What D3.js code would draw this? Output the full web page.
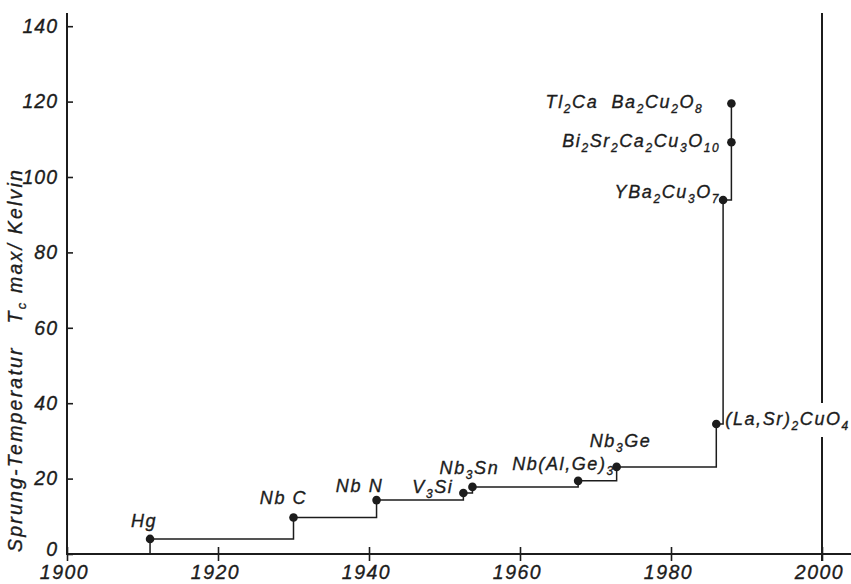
<!DOCTYPE html>
<html>
<head>
<meta charset="utf-8">
<script src="https://cdn.jsdelivr.net/npm/d3@7"></script>
<style>
  html, body { margin: 0; padding: 0; background: #fff; }
  svg { display: block; }
  text { font-family: 'Liberation Sans', Arial, sans-serif; font-style: italic; fill: #1c1c1c;
         stroke: #1c1c1c; stroke-width: 0.35px; }
</style>
</head>
<body>
<svg id="chart" width="851" height="584"></svg>
<script>
// ---- data ----
const materials = ["Hg", "Nb C", "Nb N", "V_3Si", "Nb_3Sn", "Nb(Al,Ge)_3", "Nb_3Ge",
  "(La,Sr)_2CuO_4", "YBa_2Cu_3O_7", "Bi_2Sr_2Ca_2Cu_3O_10", "Tl_2Ca  Ba_2Cu_2O_8"];
const years = [1911, 1930, 1941, 1952.5, 1953.7, 1967.7, 1972.8, 1986.0, 1986.9, 1988.0, 1988.0];
const tcMax = [4.0, 9.7, 14.3, 16.2, 17.8, 19.4, 23.1, 34.5, 93.9, 109.2, 119.5];
const xTicks = [1900, 1920, 1940, 1960, 1980, 2000];
const yTicks = [0, 20, 40, 60, 80, 100, 120, 140];
const markerYear = 2000;
const yLabel = "Sprung-Temperatur   T_c max/ Kelvin";

// ---- layout (not data) ----
// label placement relative to its point: [anchor, dx, dy]
const labelPlacement = [
  ["middle", -6, -12],
  ["middle", -10, -13],
  ["middle", -17, -8],
  ["end", -10, 0],
  ["middle", -3, -13],
  ["start", -66, -11],
  ["middle", 4, -20],
  ["start", 9, 1],
  ["end", -3, -2],
  ["end", -11, 5],
  ["end", -28, 5]
];

const ink = "#1c1c1c";
const svg = d3.select("#chart");
const x = d3.scaleLinear().domain([1900, 2000]).range([67, 822]);
const y = d3.scaleLinear().domain([0, 143.5]).range([554, 13]);
const W = 851;

const points = materials.map((m, i) => ({ name: m, year: years[i], tc: tcMax[i] }));

function richText(sel, str, mainSize, subSize, shift) {
  const parts = str.split(/_(\d+|c)/);
  let shifted = false;
  parts.forEach((p, i) => {
    if (p === "") return;
    const isSub = i % 2 === 1;
    const t = sel.append("tspan").attr("font-size", isSub ? subSize : mainSize).text(p);
    if (isSub && !shifted) { t.attr("dy", shift); shifted = true; }
    else if (!isSub && shifted) { t.attr("dy", -shift); shifted = false; }
  });
}

// ---- axes ----
const xAxis = d3.axisBottom(x).tickValues(xTicks).tickFormat(d3.format("d"))
  .tickSizeInner(0).tickSizeOuter(0).tickPadding(11);
const gx = svg.append("g").attr("transform", `translate(0,${y(0)})`).call(xAxis);
gx.select(".domain").remove();
gx.selectAll(".tick line").attr("y1", -7).attr("y2", 7).attr("stroke", ink).attr("stroke-width", 1.6);
gx.selectAll(".tick text").attr("font-size", 19.5).attr("dx", -3)
  .style("letter-spacing", "1.5px").attr("font-family", null).attr("fill", ink);
gx.append("line").attr("x1", x(1900)).attr("x2", W).attr("stroke", ink).attr("stroke-width", 2);

const yAxis = d3.axisLeft(y).tickValues(yTicks).tickSizeInner(-6).tickSizeOuter(0).tickPadding(9);
const gy = svg.append("g").attr("transform", `translate(${x(1900)},0)`).call(yAxis);
gy.select(".domain").remove();
gy.selectAll(".tick line").attr("stroke", ink).attr("stroke-width", 1.6);
gy.selectAll(".tick text").attr("font-size", 19.5).style("letter-spacing", "1px")
  .attr("font-family", null).attr("fill", ink)
  .attr("dy", d => d === 0 ? "0.1em" : "0.32em");
gy.append("line").attr("y1", y(0) + 1).attr("y2", y(143.5)).attr("stroke", ink).attr("stroke-width", 2);

// y axis title, spread to span the same height as in the original
const titleTop = 168, titleBottom = 552;
const yt = svg.append("text")
  .attr("transform", `translate(22,${(titleTop + titleBottom) / 2}) rotate(-90)`)
  .attr("text-anchor", "middle")
  .style("white-space", "pre");
richText(yt, yLabel, 19.5, 13, 4);
const baseLen = yt.node().getComputedTextLength();
const nChars = yLabel.replace(/_/g, "").length;
const spacing = Math.max(0, (titleBottom - titleTop - baseLen) / nChars);
yt.style("letter-spacing", spacing + "px");

// ---- step line ----
const lineData = [{ year: points[0].year, tc: 0 }, ...points];
const line = d3.line().x(d => x(d.year)).y(d => y(d.tc)).curve(d3.curveStepAfter);
svg.append("path").datum(lineData).attr("d", line)
  .attr("fill", "none").attr("stroke", ink).attr("stroke-width", 1.5);

// ---- labels ----
const labels = svg.append("g");
points.forEach((p, i) => {
  const [anchor, dx, dy] = labelPlacement[i];
  const t = labels.append("text")
    .attr("x", x(p.year) + dx).attr("y", y(p.tc) + dy)
    .attr("text-anchor", anchor)
    .style("white-space", "pre")
    .style("letter-spacing", "1.6px");
  richText(t, p.name, 18, 12, 5);
  p.node = t.node();
});

// ---- dots ----
svg.append("g").selectAll("circle").data(points).join("circle")
  .attr("cx", d => x(d.year)).attr("cy", d => y(d.tc)).attr("r", 4.3).attr("fill", ink);

// ---- marker line at 2000, broken around the (La,Sr) label ----
const lsBox = points[7].node.getBBox();
const mx = x(markerYear);
const gapTop = lsBox.y - 6, gapBot = lsBox.y + lsBox.height + 4;
svg.append("line").attr("x1", mx).attr("x2", mx).attr("y1", y(143.5)).attr("y2", gapTop)
  .attr("stroke", ink).attr("stroke-width", 2);
svg.append("line").attr("x1", mx).attr("x2", mx).attr("y1", gapBot).attr("y2", y(0) + 7)
  .attr("stroke", ink).attr("stroke-width", 2);
</script>
</body>
</html>
